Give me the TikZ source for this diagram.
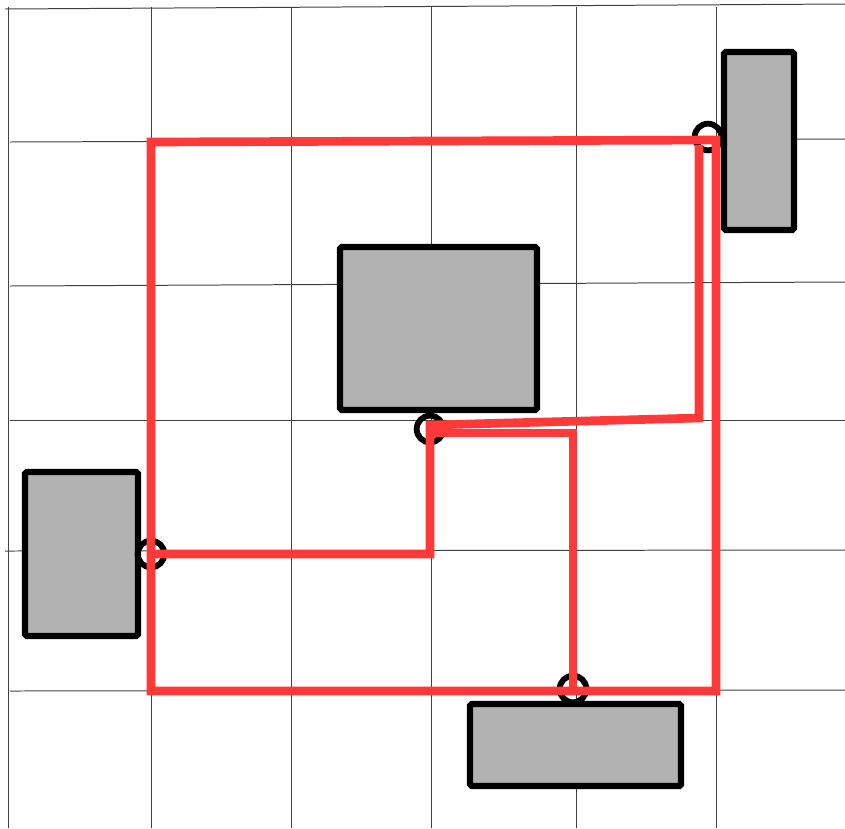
\documentclass[tikz,border=0pt]{standalone}
\usetikzlibrary{positioning}

\definecolor{wirered}{RGB}{255,56,56}
\definecolor{cellgray}{RGB}{178,178,178}

\begin{document}
\begin{tikzpicture}[
    x=0.03cm, y=-0.03cm,
    gridline/.style={line width=0.85pt, black!75},
    cell/.style={draw=black, fill=cellgray, line width=5.4pt, rounded corners=1.5pt, inner sep=0pt},
    pin/.style={circle, draw=black, line width=5pt, minimum size=0.8cm, inner sep=0pt},
    wire/.style={draw=wirered, line width=7.4pt, line join=miter}
]
    \useasboundingbox (0,0) rectangle (845,828);

    % ==========================
    % GRID
    % ==========================
    \foreach \gx in {8,151,291,431,576,716}
        \draw[gridline] (\gx,7) -- (\gx,828);

    \foreach \ly/\ry/\sx in {9/4/5, 142/139/10, 286/282/10, 420/420/10, 551/550/5, 691/690/10}
        \draw[gridline] (\sx,\ly) -- (845,\ry);

    % ==========================
    % CELLS
    % ==========================
    \node[cell, minimum width=2.1cm, minimum height=5.34cm] (cellTR) at (759,141) {};
    \node[cell, minimum width=5.91cm, minimum height=4.89cm] (cellC) at (438.5,328.5) {};
    \node[cell, minimum width=3.39cm, minimum height=4.92cm] (cellL) at (81.5,554) {};
    \node[cell, minimum width=6.33cm, minimum height=2.46cm] (cellB) at (575.5,745) {};

    % ==========================
    % PINS
    % ==========================
    \node[pin] (pinTR) at (708,137) {};
    \node[pin] (pinC) at (430,429) {};
    \node[pin] (pinL) at (151,554) {};
    \node[pin] (pinB) at (573,689) {};

    % ==========================
    % WIRES
    % ==========================
    \coordinate (nw) at (151,142);
    \coordinate (ne) at (716,140);
    \coordinate (se) at (716,691);
    \coordinate (sw) at (151,691);
    \coordinate (jog) at (699,418);
    \coordinate (up) at (699,145);

    % outer ring through the pins
    \draw[wire] (nw) -- (ne) -- (se) -- (sw) -- cycle;

    % left pin to top right pin
    \draw[wire] (pinL.center) -| ([yshift=0.12cm]pinC.center) -- (jog) -- (up);

    % centre pin to bottom pin
    \draw[wire] ([yshift=-0.12cm]pinC.center) -| (pinB.center);

\end{tikzpicture}
\end{document}
